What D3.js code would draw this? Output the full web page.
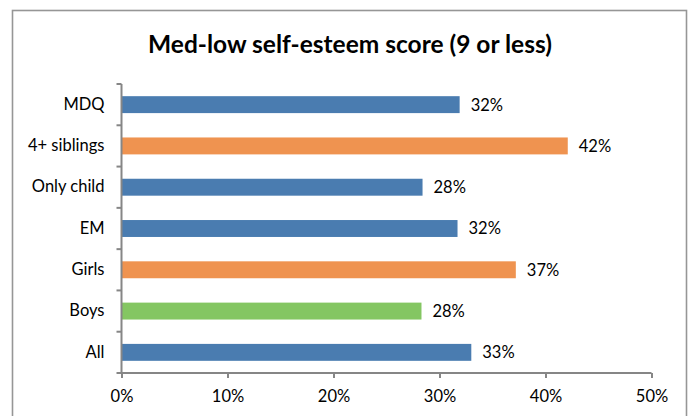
<!DOCTYPE html>
<html><head><meta charset="utf-8">
<script src="https://cdn.jsdelivr.net/npm/d3@7"></script>
<style>body{margin:0;background:#fff}svg{display:block}text{font-family:Lato,sans-serif}</style>
</head><body>
<script>
const categories = ["MDQ","4+ siblings","Only child","EM","Girls","Boys","All"];
const values = [0.319, 0.421, 0.284, 0.317, 0.372, 0.283, 0.330];
const labels = ["32%","42%","28%","32%","37%","28%","33%"];
const colors = ["#4a7cb0","#ef9350","#4a7cb0","#4a7cb0","#ef9350","#84c662","#4a7cb0"];
const xTicks = [0,0.1,0.2,0.3,0.4,0.5];
const title = "Med-low self-esteem score (9 or less)";

const W=695,H=416;
const FONT="Lato, sans-serif";
const FS="16.5px";
const svg=d3.select("body").append("svg").attr("width",W).attr("height",H);
svg.append("rect").attr("x",12.5).attr("y",10.5).attr("width",674).attr("height",420)
  .attr("fill","#fff").attr("stroke","#969696").attr("stroke-width",1.6);
svg.append("text").attr("x",350).attr("y",53).attr("text-anchor","middle")
  .attr("font-size",24.5).attr("font-weight","bold").attr("fill","#000").style("font-family",FONT).text(title);

const x=d3.scaleLinear().domain([0,0.5]).range([121.5,651.5]);
const y=d3.scaleBand().domain(categories).range([84,373]).paddingInner(0.59).paddingOuter(0.295);

svg.selectAll("rect.bar").data(categories).enter().append("rect").attr("class","bar")
  .attr("x",x(0)).attr("y",d=>y(d)).attr("height",y.bandwidth())
  .attr("width",(d,i)=>x(values[i])-x(0)).attr("fill",(d,i)=>colors[i]);

svg.selectAll("text.val").data(categories).enter().append("text").attr("class","val")
  .attr("x",(d,i)=>x(values[i])+11).attr("y",d=>y(d)+y.bandwidth()/2).attr("dy","0.36em")
  .style("font-size",FS).style("font-family",FONT).attr("fill","#000").text((d,i)=>labels[i]);

const xa=svg.append("g").attr("transform","translate(0,373)")
  .call(d3.axisBottom(x).tickValues(xTicks).tickFormat(d3.format(".0%")).tickSize(5).tickPadding(12));
const yb=d3.scaleBand().domain(categories).range([84,373]);
const ya=svg.append("g").attr("transform","translate(121.5,0)")
  .call(d3.axisLeft(yb).tickSize(0).tickPadding(17));
svg.selectAll("line.ct").data(d3.range(categories.length+1)).enter().append("line").attr("class","ct")
  .attr("x1",116.5).attr("x2",121.5).attr("y1",i=>84+i*yb.step()).attr("y2",i=>84+i*yb.step())
  .attr("stroke","#868686").attr("stroke-width",2);
[xa,ya].forEach(g=>{
  g.attr("font-family",null).attr("font-size",null);
  g.selectAll(".domain").attr("stroke","#868686").attr("stroke-width",2);
  g.selectAll("line").attr("stroke","#868686").attr("stroke-width",2);
  g.selectAll("text").style("font-size",FS).attr("fill","#000").style("font-family",FONT);
});
ya.select(".domain").attr("d","M0,84V373");
xa.select(".domain").attr("d","M121.5,0H651.5");
</script>
</body></html>
